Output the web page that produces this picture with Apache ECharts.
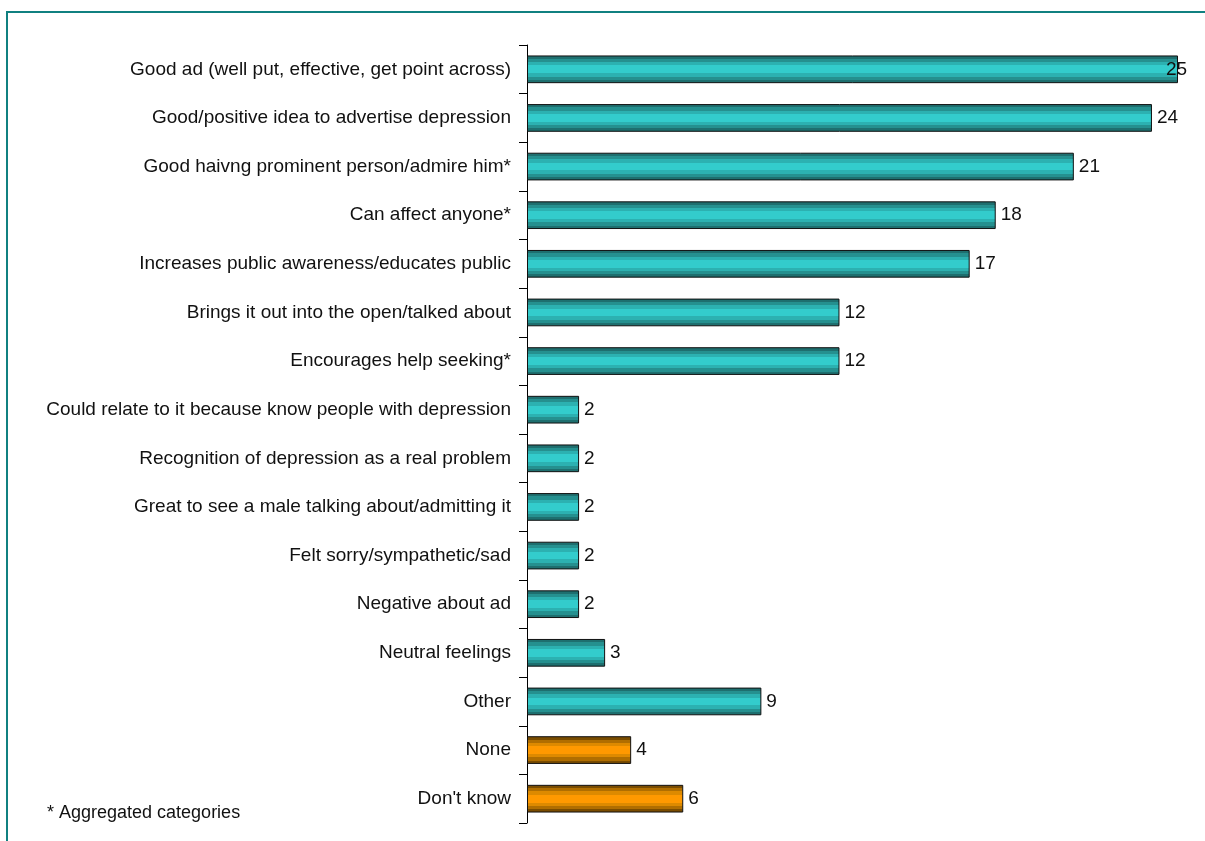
<!DOCTYPE html>
<html>
<head>
<meta charset="utf-8">
<script src="https://cdn.jsdelivr.net/npm/echarts@6/dist/echarts.min.js"></script>
<style>
  html, body { margin: 0; padding: 0; background: #fff; }
  #chart { width: 1205px; height: 841px; }
</style>
</head>
<body>
<div id="chart"></div>
<script>
var categories = [
  'Good ad (well put, effective, get point across)',
  'Good/positive idea to advertise depression',
  'Good haivng prominent person/admire him*',
  'Can affect anyone*',
  'Increases public awareness/educates public',
  'Brings it out into the open/talked about',
  'Encourages help seeking*',
  'Could relate to it because know people with depression',
  'Recognition of depression as a real problem',
  'Great to see a male talking about/admitting it',
  'Felt sorry/sympathetic/sad',
  'Negative about ad',
  'Neutral feelings',
  'Other',
  'None',
  "Don't know"
];
var values = [25, 24, 21, 18, 17, 12, 12, 2, 2, 2, 2, 2, 3, 9, 4, 6];
var orangeItems = ['None', "Don't know"];

var FONT = '"Liberation Sans", Arial, sans-serif';

var chartDom = document.getElementById('chart');
var myChart = echarts.init(chartDom);

// stepped bands across bar thickness: dark edges, bright middle
function bands(c) {
  return new echarts.graphic.LinearGradient(0, 0, 0, 1, [
    { offset: 0, color: c[0] }, { offset: 0.12, color: c[0] },
    { offset: 0.12, color: c[1] }, { offset: 0.24, color: c[1] },
    { offset: 0.24, color: c[2] }, { offset: 0.36, color: c[2] },
    { offset: 0.36, color: c[3] }, { offset: 0.64, color: c[3] },
    { offset: 0.64, color: c[2] }, { offset: 0.76, color: c[2] },
    { offset: 0.76, color: c[1] }, { offset: 0.88, color: c[1] },
    { offset: 0.88, color: c[0] }, { offset: 1, color: c[0] }
  ]);
}
var teal = bands(['#1e6f6f', '#25908f', '#2cb1b1', '#33cccc']);
var orange = bands(['#7a4c00', '#b06e00', '#dd8a00', '#ff9900']);

var barData = values.map(function (v, i) {
  var item = {
    value: v,
    itemStyle: { color: orangeItems.indexOf(categories[i]) >= 0 ? orange : teal }
  };
  if (i === 0) {
    item.label = { offset: [-17, 0] };
  }
  return item;
});

var option = {
  animation: false,
  textStyle: { fontFamily: FONT },
  graphic: [
    {
      type: 'rect',
      shape: { x: 7, y: 12, width: 1210, height: 840 },
      style: { fill: 'none', stroke: '#108080', lineWidth: 2 },
      silent: true
    },
    {
      type: 'text',
      left: 47,
      top: 804,
      style: {
        text: '* Aggregated categories',
        font: '18px ' + FONT,
        fill: '#111'
      }
    }
  ],
  grid: {
    left: 527,
    right: 27,
    top: 45,
    bottom: 18,
    containLabel: false,
    outerBoundsMode: 'none'
  },
  xAxis: {
    type: 'value',
    min: 0,
    max: 25,
    show: false
  },
  yAxis: {
    type: 'category',
    data: categories,
    inverse: true,
    axisLine: { show: true, lineStyle: { color: '#000', width: 1 } },
    axisTick: { show: true, length: 8, lineStyle: { color: '#000' } },
    axisLabel: {
      color: '#111',
      fontSize: 19,
      fontFamily: FONT,
      margin: 16
    },
    splitLine: { show: false }
  },
  series: [
    {
      type: 'bar',
      data: barData,
      barWidth: '57%',
      itemStyle: { borderColor: '#111', borderWidth: 1 },
      label: {
        show: true,
        position: 'right',
        distance: 5,
        color: '#111',
        fontSize: 19,
        fontFamily: FONT
      }
    }
  ]
};
option && myChart.setOption(option);
</script>
</body>
</html>
